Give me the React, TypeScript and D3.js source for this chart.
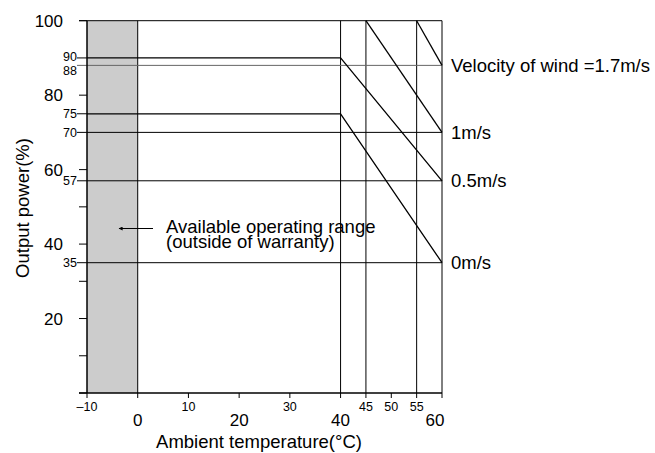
import React from 'react';
import * as d3 from 'd3';

// temperature axis
const tempMajorLabels = [0, 20, 40, 60];
const tempMinorLabels = [-10, 10, 30, 45, 50, 55];
const tempTicks = [-10, 0, 10, 20, 30, 40, 45, 50, 55, 60];
const tempGrid = [0, 40, 45, 55, 60];

// power axis
const powerMajorLabels = [20, 40, 60, 80, 100];
const powerMinorLabels = [90, 88, 75, 70, 57, 35];
const powerPlainTicks = [0, 10, 30, 50];
const powerRefLines = [88, 70, 57, 35];

// derating curves, one per wind velocity
const windNames = ['Velocity of wind =1.7m/s', '1m/s', '0.5m/s', '0m/s'];
const windTemps = [[55, 60], [45, 60], [-10, 40, 60], [-10, 40, 60]];
const windPowers = [[100, 88], [100, 70], [90, 90, 57], [75, 75, 35]];

const W = 655, H = 453;
const FONT = '"Liberation Sans", Arial, Helvetica, sans-serif';
const TXT = 18.5; // words
const NUM = 17; // big tick numbers
const SMALL = 12.5; // small tick numbers

export default function App() {
  const x = d3.scaleLinear().domain([-10, 60]).range([87, 442]);
  const y = d3.scaleLinear().domain([0, 100]).range([393, 20.7]);
  const line = d3.line<[number, number]>().x(d => x(d[0])).y(d => y(d[1]));

  const x0 = x(-10), x1 = x(60), yTop = y(100), yBot = y(0);

  return (
    <svg width={W} height={H} style={{ position: 'absolute', left: 0, top: 0, background: '#fff' }}
      fontFamily={FONT}>
      {/* shaded range outside of warranty */}
      <rect x={x0} y={yTop} width={x(0) - x0} height={yBot - yTop} fill="#cccccc" />

      {/* vertical grid */}
      {tempGrid.map(t => (
        <line key={'v' + t} x1={x(t)} x2={x(t)} y1={yTop} y2={yBot} stroke="#000" strokeWidth={1} />
      ))}
      {/* reference horizontals */}
      {powerRefLines.map(p => (
        <line key={'h' + p} x1={77} x2={x1} y1={y(p)} y2={y(p)}
          stroke={p === 88 ? '#666' : '#000'} strokeWidth={1} />
      ))}
      {/* top border */}
      <line x1={79} x2={x1} y1={yTop} y2={yTop} stroke="#000" strokeWidth={1} />

      {/* curves */}
      {windTemps.map((ts, i) => (
        <path key={'c' + i} d={line(ts.map((t, j) => [t, windPowers[i][j]] as [number, number])) || ''}
          fill="none" stroke="#000" strokeWidth={1.3} />
      ))}
      {/* tick for 90 & 75 plateaus */}
      {[90, 75].map(p => (
        <line key={'pt' + p} x1={77} x2={x0} y1={y(p)} y2={y(p)} stroke="#000" strokeWidth={1} />
      ))}

      {/* axes */}
      <line x1={x0} x2={x0} y1={yTop} y2={yBot} stroke="#000" strokeWidth={1.5} />
      <line x1={79} x2={x1} y1={yBot} y2={yBot} stroke="#000" strokeWidth={1.5} />

      {/* y ticks */}
      {[...powerMajorLabels, ...powerPlainTicks].map(p => (
        <line key={'yt' + p} x1={79} x2={x0} y1={y(p)} y2={y(p)} stroke="#000" strokeWidth={1} />
      ))}
      {powerMajorLabels.map(p => (
        <text key={'yl' + p} x={63} y={y(p)} dy="0.36em" textAnchor="end" fontSize={NUM}>{p}</text>
      ))}
      {powerMinorLabels.map(p => (
        <text key={'ys' + p} x={77} y={y(p) + (p === 88 ? 5.5 : p === 90 ? -1 : 0)} dy="0.36em"
          textAnchor="end" fontSize={SMALL}>{p}</text>
      ))}

      {/* x ticks */}
      {tempTicks.map(t => (
        <line key={'xt' + t} x1={x(t)} x2={x(t)} y1={yBot} y2={yBot + 5} stroke="#000" strokeWidth={1} />
      ))}
      {tempMinorLabels.map(t => (
        <text key={'xs' + t} x={x(t)} y={406} dy="0.36em" textAnchor="middle" fontSize={SMALL}>
          {t < 0 ? '\u2013' + Math.abs(t) : t}
        </text>
      ))}
      {tempMajorLabels.map(t => (
        <text key={'xl' + t} x={t === 60 ? x(t) - 7 : x(t)} y={419.5} dy="0.36em" textAnchor="middle" fontSize={NUM}>{t}</text>
      ))}

      {/* axis titles */}
      <text x={259} y={447.5} textAnchor="middle" fontSize={TXT}>Ambient temperature(°C)</text>
      <text transform={`translate(22,208) rotate(-90)`} dy="0.36em" textAnchor="middle" fontSize={TXT}>Output power(%)</text>

      {/* wind labels */}
      {windNames.map((n, i) => {
        const ps = windPowers[i];
        return (
          <text key={'w' + i} x={451} y={y(ps[ps.length - 1])} dy="0.36em" fontSize={TXT}>{n}</text>
        );
      })}

      {/* annotation */}
      <defs>
        <marker id="ah" viewBox="0 0 10 10" refX="9" refY="5" markerWidth="6" markerHeight="4" orient="auto">
          <path d="M0,0 L10,5 L0,10 z" fill="#000" />
        </marker>
      </defs>
      <line x1={153} x2={119} y1={228.5} y2={228.5} stroke="#000" strokeWidth={1} markerEnd="url(#ah)" />
      <text x={166} y={226} dy="0.36em" fontSize={TXT}>Available operating range</text>
      <text x={166} y={241.5} dy="0.36em" fontSize={TXT}>(outside of warranty)</text>
    </svg>
  );
}
